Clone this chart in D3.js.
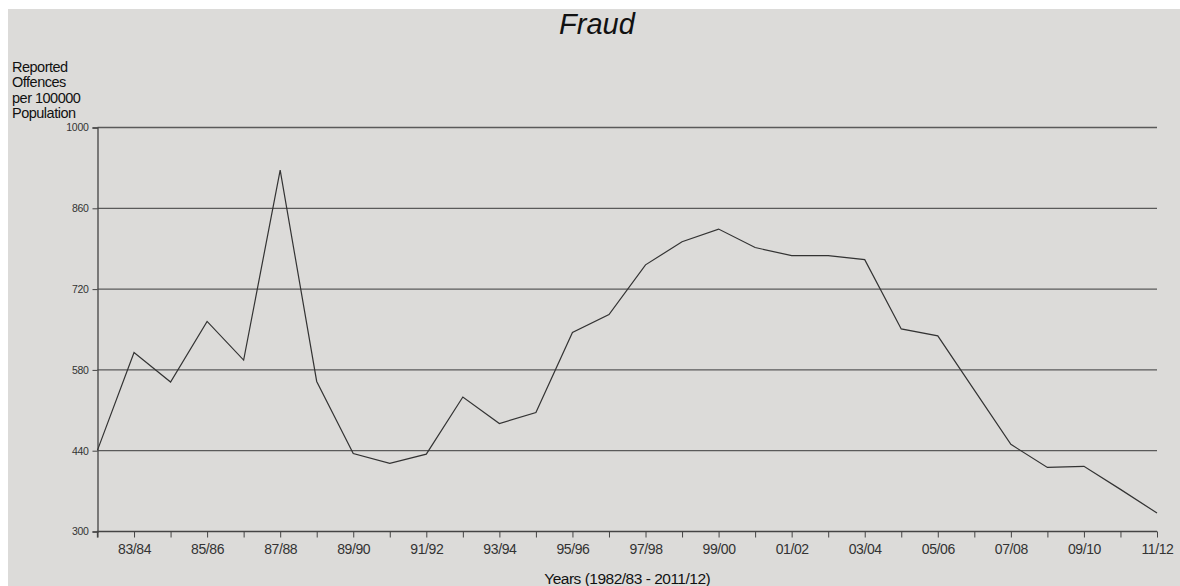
<!DOCTYPE html>
<html>
<head>
<meta charset="utf-8">
<script src="https://cdn.jsdelivr.net/npm/d3@7"></script>
<style>
  body { margin: 0; background: #fff; }
  svg { display: block; font-family: "Liberation Sans", Arial, sans-serif; }
</style>
</head>
<body>
<svg id="chart" width="1180" height="586"></svg>
<script>
// Fraud - reported offences per 100000 population
const years = ["82/83","83/84","84/85","85/86","86/87","87/88","88/89","89/90","90/91","91/92",
  "92/93","93/94","94/95","95/96","96/97","97/98","98/99","99/00","00/01","01/02",
  "02/03","03/04","04/05","05/06","06/07","07/08","08/09","09/10","10/11","11/12"];
const rates = [441, 610, 559, 664, 597, 926, 560, 435, 418, 434,
  533, 487, 506, 645, 676, 762, 802, 824, 792, 778,
  778, 771, 651, 639, 545, 451, 411, 413, 373, 332];
const yTicks = [300, 440, 580, 720, 860, 1000];

const width = 1180, height = 586;
const margin = { left: 97.5, right: 23, top: 127.5, bottom: 54 };

const svg = d3.select("#chart");

// fond gris
svg.append("rect")
  .attr("x", 8).attr("y", 9)
  .attr("width", width - 8).attr("height", height - 9)
  .attr("fill", "#dcdbd9");

const x = d3.scalePoint()
  .domain(years)
  .range([margin.left, width - margin.right]);

const y = d3.scaleLinear()
  .domain([300, 1000])
  .range([height - margin.bottom - 0.5, margin.top]);

// lignes de grille
svg.append("g")
  .selectAll("line")
  .data(yTicks.slice(1))
  .join("line")
  .attr("x1", margin.left)
  .attr("x2", width - margin.right)
  .attr("y1", d => y(d))
  .attr("y2", d => y(d))
  .attr("stroke", "#5a5a5a")
  .attr("stroke-width", 1.3);

// axe Y
const yAxis = svg.append("g")
  .attr("transform", `translate(${margin.left},0)`)
  .call(d3.axisLeft(y).tickValues(yTicks).tickFormat(d3.format("d"))
    .tickSize(5).tickPadding(4));
yAxis.select(".domain").attr("stroke", "#444").attr("stroke-width", 1.3);
yAxis.selectAll(".tick line").attr("stroke", "#444");
yAxis.selectAll("text").attr("font-size", 10.5).attr("fill", "#333")
  .attr("letter-spacing", -0.3)
  .attr("font-family", "Liberation Sans, Arial, sans-serif");

// axe X : une graduation par année, étiquette une sur deux
const xAxis = svg.append("g")
  .attr("transform", `translate(0,${y(300)})`)
  .call(d3.axisBottom(x).tickSize(6).tickPadding(7)
    .tickFormat((d, i) => i % 2 === 1 ? d : ""));
xAxis.select(".domain").attr("stroke", "#444").attr("stroke-width", 1.3)
  .attr("d", `M${margin.left},6V0H${width - margin.right}V0`);
xAxis.selectAll(".tick line").attr("stroke", "#444");
xAxis.selectAll("text").attr("font-size", 14).attr("fill", "#333")
  .attr("letter-spacing", -0.4)
  .attr("font-family", "Liberation Sans, Arial, sans-serif");

// la courbe
const line = d3.line()
  .x((d, i) => x(years[i]))
  .y(d => y(d));

svg.append("path")
  .datum(rates)
  .attr("d", line)
  .attr("fill", "none")
  .attr("stroke", "#333")
  .attr("stroke-width", 1.2);

// titres
svg.append("text")
  .attr("x", 597).attr("y", 34)
  .attr("text-anchor", "middle")
  .attr("font-size", 29)
  .attr("font-style", "italic")
  .attr("fill", "#111")
  .text("Fraud");

const yLabel = ["Reported", "Offences", "per 100000", "Population"];
svg.append("text")
  .attr("font-size", 14.5)
  .attr("fill", "#111")
  .attr("letter-spacing", -0.5)
  .selectAll("tspan")
  .data(yLabel)
  .join("tspan")
  .attr("x", 12)
  .attr("y", (d, i) => 72 + i * 15.3)
  .text(d => d);

svg.append("text")
  .attr("x", (margin.left + width - margin.right) / 2)
  .attr("y", 584)
  .attr("text-anchor", "middle")
  .attr("font-size", 15.5)
  .attr("letter-spacing", -0.5)
  .attr("fill", "#111")
  .text("Years (1982/83 - 2011/12)");
</script>
</body>
</html>
